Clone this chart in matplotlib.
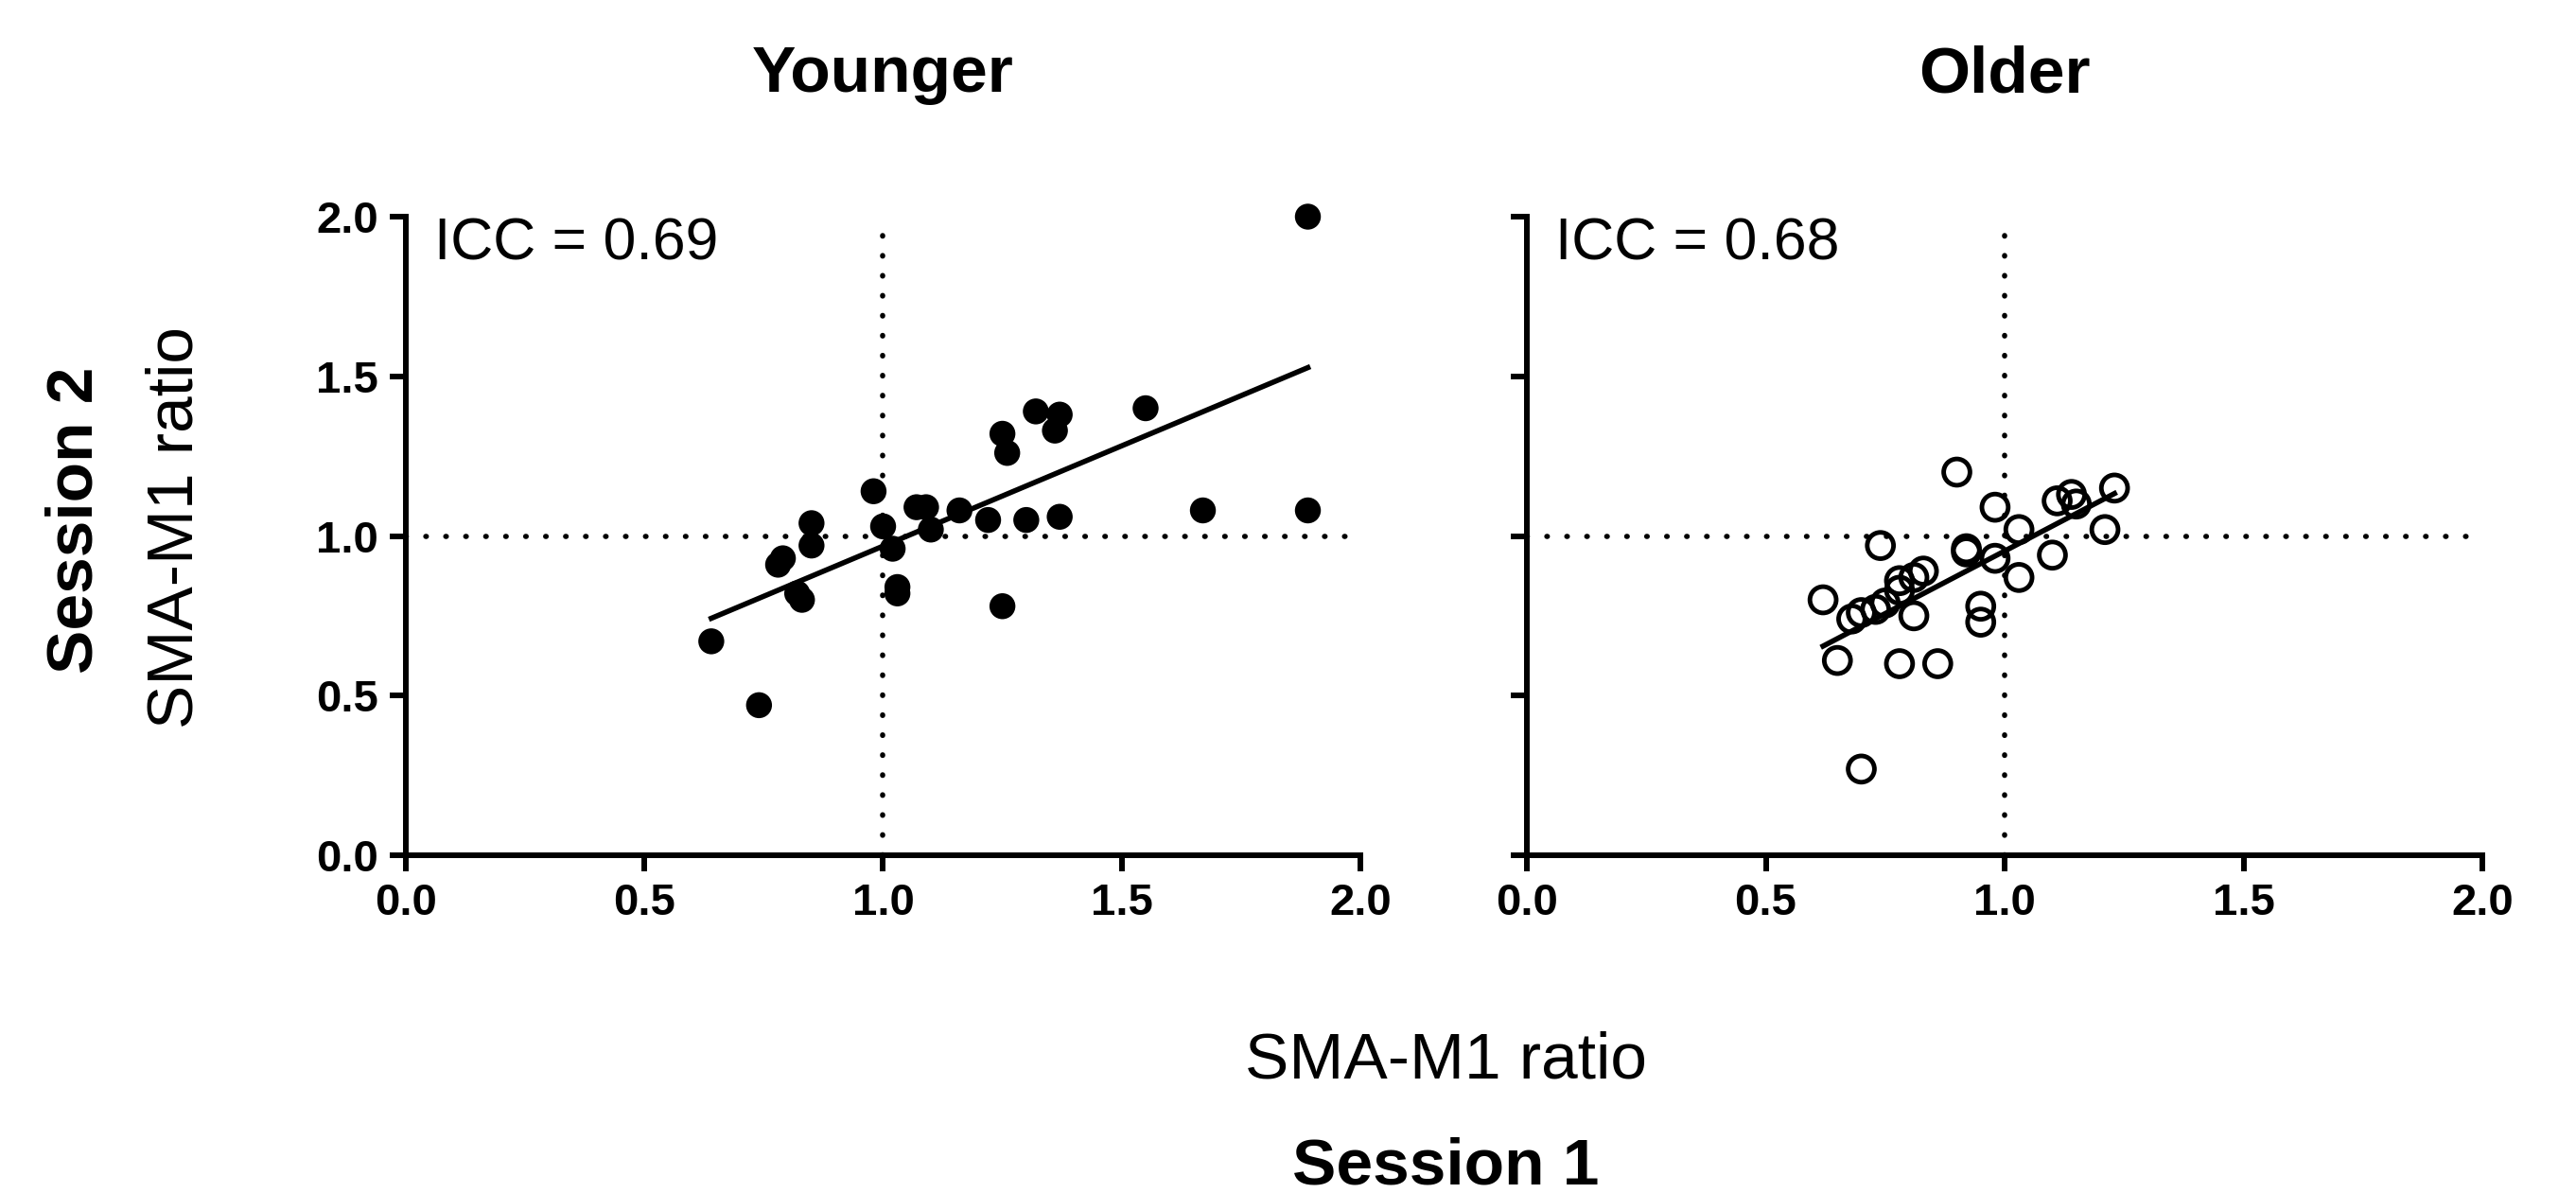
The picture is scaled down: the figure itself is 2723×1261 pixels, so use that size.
import numpy as np
import matplotlib
matplotlib.use('Agg')
from matplotlib import pyplot as plt

plt.rcParams['font.family'] = ['Liberation Sans', 'DejaVu Sans']

# ------------------------------------------------------------
# SMA-M1 ratio, session 1 (x) vs session 2 (y)
young_s1 = [1.89, 1.55, 1.32, 1.37, 1.36, 1.25, 1.26, 0.98, 1.07, 1.09,
            1.16, 1.67, 1.89, 1.22, 1.30, 1.37, 0.85, 1.00, 1.10, 0.85,
            1.02, 0.79, 0.78, 0.82, 0.83, 1.03, 1.03, 1.25, 0.64, 0.74]
young_s2 = [2.00, 1.40, 1.39, 1.38, 1.33, 1.32, 1.26, 1.14, 1.09, 1.09,
            1.08, 1.08, 1.08, 1.05, 1.05, 1.06, 1.04, 1.03, 1.02, 0.97,
            0.96, 0.93, 0.91, 0.82, 0.80, 0.84, 0.82, 0.78, 0.67, 0.47]

older_s1 = [0.90, 0.98, 1.23, 1.11, 1.14, 1.15, 1.03, 1.21, 0.74, 0.92,
            0.92, 0.98, 1.10, 1.03, 0.83, 0.81, 0.78, 0.78, 0.62, 0.75,
            0.73, 0.70, 0.68, 0.81, 0.95, 0.95, 0.65, 0.78, 0.86, 0.70]
older_s2 = [1.20, 1.09, 1.15, 1.11, 1.13, 1.10, 1.02, 1.02, 0.97, 0.96,
            0.95, 0.93, 0.94, 0.87, 0.89, 0.87, 0.86, 0.83, 0.80, 0.79,
            0.77, 0.76, 0.74, 0.75, 0.78, 0.73, 0.61, 0.60, 0.60, 0.27]

titles = ['Younger', 'Older']
icc_values = [0.69, 0.68]
ticks = [0.0, 0.5, 1.0, 1.5, 2.0]
tick_labels = ['0.0', '0.5', '1.0', '1.5', '2.0']

# ------------------------------------------------------------
W, H = 2723, 1261
fig = plt.figure(figsize=(W / 100, H / 100), dpi=100)

axes_px = [(429, 1438), (1614, 2624)]   # left/right edge of each panel
top_px, bottom_px = 229, 904

groups = [(young_s1, young_s2, 'filled'), (older_s1, older_s2, 'open')]

for i, ((x0, x1), (xs, ys, style)) in enumerate(zip(axes_px, groups)):
    ax = fig.add_axes([x0 / W, 1 - bottom_px / H,
                       (x1 - x0) / W, (bottom_px - top_px) / H])
    xs = np.array(xs)
    ys = np.array(ys)

    # dotted reference lines at 1.0
    dot = (0, (0.1, 3.7))
    ax.axhline(1.0, color='black', lw=4, ls=dot, dash_capstyle='round',
               zorder=1)
    ax.axvline(1.0, color='black', lw=4, ls=dot, dash_capstyle='round',
               zorder=1)

    if style == 'filled':
        ax.scatter(xs, ys, s=390, c='black', edgecolors='none', zorder=3,
                   clip_on=False)
    else:
        ax.scatter(xs, ys, s=400, facecolors='none', edgecolors='black',
                   linewidths=3.5, zorder=3, clip_on=False)

    # linear regression over the data range
    slope, intercept = np.polyfit(xs, ys, 1)
    xf = np.array([xs.min(), xs.max()])
    ax.plot(xf, slope * xf + intercept, color='black', lw=4, zorder=2)

    ax.set_xlim(0, 2)
    ax.set_ylim(0, 2)
    ax.set_xticks(ticks)
    ax.set_xticklabels(tick_labels)
    ax.set_yticks(ticks)
    if i == 0:
        ax.set_yticklabels(tick_labels)
    else:
        ax.set_yticklabels([])

    for side in ['top', 'right']:
        ax.spines[side].set_visible(False)
    for side in ['left', 'bottom']:
        ax.spines[side].set_linewidth(4.3)
    ax.tick_params(direction='out', length=12, width=4.3, pad=9,
                   labelsize=34)
    for lab in ax.get_xticklabels() + ax.get_yticklabels():
        lab.set_fontweight('bold')

    ax.text(0.03, 0.932, 'ICC = %.2f' % icc_values[i], transform=ax.transAxes,
            fontsize=45, va='baseline', ha='left')

    fig.text((x0 + x1) / 2 / W, 1 - 97 / H, titles[i], fontsize=50,
             fontweight='bold', ha='center', va='baseline')

# shared axis labels
fig.text(80 / W, 1 - 550 / H, 'Session 2', rotation=90, fontsize=50,
         fontweight='bold', ha='center', va='center')
fig.text(185 / W, 1 - 558 / H, 'SMA-M1 ratio', rotation=90, fontsize=50,
         ha='center', va='center')
fig.text(1528 / W, 1 - 1140 / H, 'SMA-M1 ratio', fontsize=50,
         ha='center', va='baseline')
fig.text(1528 / W, 1 - 1252 / H, 'Session 1', fontsize=50,
         fontweight='bold', ha='center', va='baseline')

fig.savefig('out.png', dpi=100, facecolor='white')
